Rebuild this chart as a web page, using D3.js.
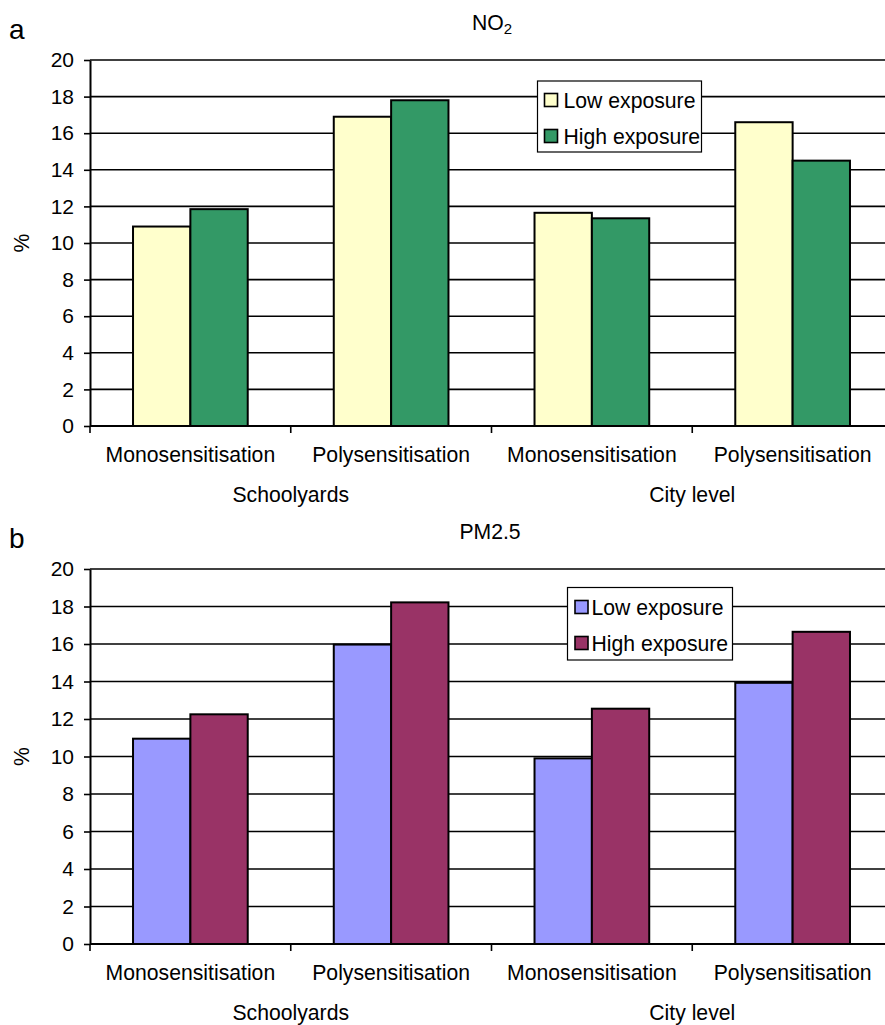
<!DOCTYPE html>
<html>
<head>
<meta charset="utf-8">
<script src="https://cdn.jsdelivr.net/npm/d3@7"></script>
<style>
  body { margin: 0; background: #fff; }
  svg { display: block; font-family: "Liberation Sans", Arial, sans-serif; }
</style>
</head>
<body>
<svg id="chart" width="885" height="1025"></svg>
<script>
// ---- data ----
const categories = ["Schoolyards|Monosensitisation", "Schoolyards|Polysensitisation",
                    "City level|Monosensitisation", "City level|Polysensitisation"];
const categoryLabels = ["Monosensitisation", "Polysensitisation", "Monosensitisation", "Polysensitisation"];
const groupLabels = ["Schoolyards", "City level"];
const seriesNames = ["Low exposure", "High exposure"];
const yTicks = [0, 2, 4, 6, 8, 10, 12, 14, 16, 18, 20];

const no2Low  = [10.9, 16.9, 11.65, 16.6];
const no2High = [11.85, 17.8, 11.35, 14.5];
const pmLow   = [10.95, 15.97, 9.9, 13.93];
const pmHigh  = [12.25, 18.22, 12.55, 16.65];

const no2Colors = ["#FFFFCC", "#339966"];
const pmColors  = ["#9999FF", "#993366"];

const svg = d3.select("#chart");
const FS = 21.2;

function panel(opts) {
  const g = svg.append("g");
  const x0 = 90, x1 = 893;
  const y = d3.scaleLinear().domain([0, 20]).range([opts.yBottom, opts.yTop]);
  const x = d3.scaleBand().domain(categories).range([x0, x1]).paddingInner(0).paddingOuter(0);
  const barW = x.bandwidth() * 0.2857;
  const xs = d3.scaleBand().domain(seriesNames).range([0, barW * 2]);
  const off = (x.bandwidth() - barW * 2) / 2;

  // panel letter and title
  g.append("text").attr("x", 9).attr("y", opts.yTop - 21).attr("font-size", 28).text(opts.letter);
  const t = g.append("text").attr("x", opts.titleX).attr("y", opts.yTop - 30)
    .attr("font-size", FS).attr("text-anchor", "middle");
  t.append("tspan").text(opts.title);
  if (opts.sub) t.append("tspan").attr("font-size", 15).attr("dy", 4).text(opts.sub);

  // gridlines
  g.append("g").selectAll("line").data(yTicks.filter(d => d > 0)).join("line")
    .attr("x1", x0).attr("x2", x1).attr("y1", d => y(d)).attr("y2", d => y(d))
    .attr("stroke", "#000").attr("stroke-width", 1.6);

  // bars
  const series = [opts.low, opts.high];
  series.forEach((vals, si) => {
    g.append("g").selectAll("rect").data(vals).join("rect")
      .attr("x", (d, i) => x(categories[i]) + off + xs(seriesNames[si]))
      .attr("y", d => y(d))
      .attr("width", xs.bandwidth())
      .attr("height", d => y(0) - y(d))
      .attr("fill", opts.colors[si])
      .attr("stroke", "#000").attr("stroke-width", 2);
  });

  // y axis
  const ya = g.append("g").attr("transform", `translate(${x0},0)`)
    .call(d3.axisLeft(y).tickValues(yTicks).tickSize(6).tickPadding(10).tickSizeOuter(0));
  ya.select(".domain").attr("stroke-width", 2);
  ya.selectAll(".tick line").attr("stroke-width", 1.6);
  ya.selectAll(".tick text").attr("font-size", 21).attr("font-family", "Liberation Sans, Arial, sans-serif").attr("fill", "#000");

  // x axis baseline and category boundary ticks
  g.append("line").attr("x1", x0).attr("x2", x1).attr("y1", y(0)).attr("y2", y(0))
    .attr("stroke", "#000").attr("stroke-width", 2);
  const bounds = categories.map(c => x(c)).concat([x1]);
  g.append("g").selectAll("line").data(bounds).join("line")
    .attr("x1", d => d).attr("x2", d => d).attr("y1", y(0)).attr("y2", y(0) + 7)
    .attr("stroke", "#000").attr("stroke-width", 1.6);

  // category labels
  g.append("g").selectAll("text").data(categories).join("text")
    .attr("x", d => x(d) + x.bandwidth() / 2).attr("y", y(0) + 36)
    .attr("text-anchor", "middle").attr("font-size", FS)
    .text((d, i) => categoryLabels[i]);
  // group labels
  g.append("g").selectAll("text").data(groupLabels).join("text")
    .attr("x", (d, i) => x(categories[i * 2 + 1]))
    .attr("y", y(0) + 76).attr("text-anchor", "middle").attr("font-size", FS)
    .text(d => d);

  // y label
  g.append("text").attr("transform", `translate(29,${(y(0) + y(20)) / 2}) rotate(-90)`)
    .attr("text-anchor", "middle").attr("font-size", FS).text("%");

  // legend
  const L = opts.legend;
  const lg = g.append("g");
  lg.append("rect").attr("x", L.x).attr("y", L.y).attr("width", L.w).attr("height", L.h)
    .attr("fill", "#fff").attr("stroke", "#000").attr("stroke-width", 1.2);
  seriesNames.forEach((name, i) => {
    const cy = L.y + L.first + i * L.pitch;
    lg.append("rect").attr("x", L.x + L.sw).attr("y", cy - 6.5).attr("width", 13).attr("height", 13)
      .attr("fill", opts.colors[i]).attr("stroke", "#000").attr("stroke-width", 1.6);
    lg.append("text").attr("x", L.x + L.tx).attr("y", cy + 7.5).attr("font-size", FS).text(name);
  });
}

panel({
  letter: "a", title: "NO", sub: "2", titleX: 492,
  yTop: 60, yBottom: 426,
  low: no2Low, high: no2High, colors: no2Colors,
  legend: { x: 537.5, y: 81, w: 164, h: 71, first: 19, pitch: 36, sw: 7, tx: 26 }
});

panel({
  letter: "b", title: "PM2.5", sub: null, titleX: 490,
  yTop: 569, yBottom: 944,
  low: pmLow, high: pmHigh, colors: pmColors,
  legend: { x: 567.5, y: 587.5, w: 165, h: 72.5, first: 19.5, pitch: 36, sw: 7.5, tx: 24 }
});
</script>
</body>
</html>
